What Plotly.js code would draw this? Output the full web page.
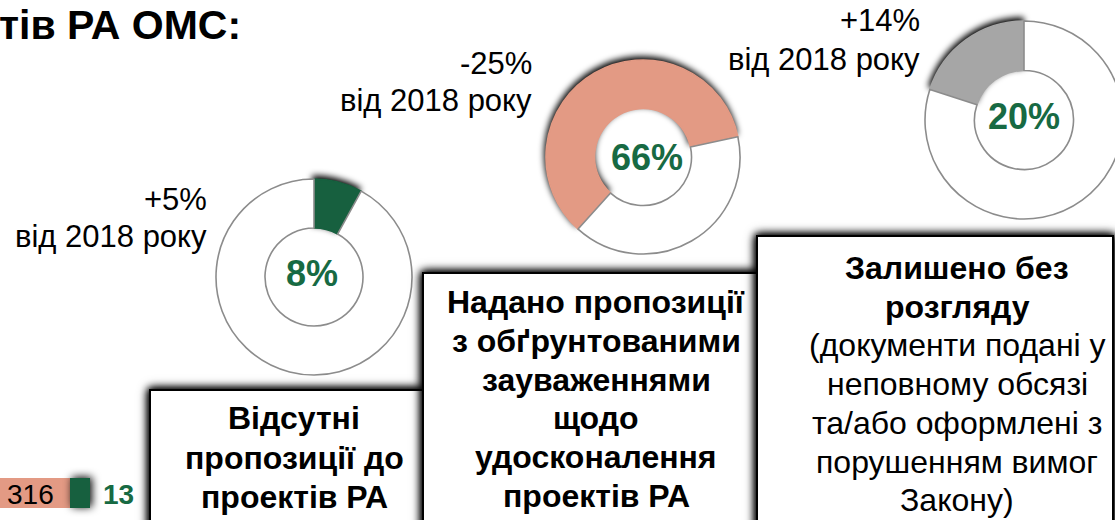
<!DOCTYPE html>
<html>
<head>
<meta charset="utf-8">
<script src="https://cdn.plot.ly/plotly-3.0.1.min.js"></script>
<style>
html,body{margin:0;padding:0;background:#fff;overflow:hidden;width:1115px;height:520px;}
#chart{width:1135px;height:520px;}
</style>
</head>
<body>
<div id="chart"></div>
<script>
// ---- data ----
const titleText = 'тів РА ОМС:';
const donut1Values = [8, 92];
const donut2Values = [60, 40];
const donut3Values = [20, 80];
const centerLabels = ['8%', '66%', '20%'];
const changeLabels = ['+5%', '-25%', '+14%'];
const changeSuffix = 'від 2018 року';
const box1Lines = ['<b>Відсутні</b>', '<b>пропозиції до</b>', '<b>проектів РА</b>'];
const box2Lines = ['<b>Надано пропозиції</b>', '<b>з обґрунтованими</b>', '<b>зауваженнями</b>',
                   '<b>щодо</b>', '<b>удосконалення</b>', '<b>проектів РА</b>'];
const box3Lines = ['<b>Залишено без</b>', '<b>розгляду</b>', '(документи подані у', 'неповному обсязі',
                   'та/або оформлені з', 'порушенням вимог', 'Закону)'];
const barCategory = ['РА'];
const barValues = [316, 13];

// ---- layout helpers ----
const W = 1135, H = 520;
const px = x => x / W;
const py = y => 1 - y / H;

const GREEN = '#17603f', SALMON = '#e39a84', GREY = '#a6a6a6', OUTLINE = '#8c8c8c';
const TEXTGREEN = '#176a43';
const FONT = 'Liberation Sans, Arial, sans-serif';

function donut(values, colors, cx, cy, r, rotation) {
  return {
    type: 'pie', values: values, sort: false, direction: 'clockwise', rotation: rotation,
    hole: 0.5, textinfo: 'none', hoverinfo: 'skip', showlegend: false,
    marker: {colors: colors, line: {color: [colors[0], OUTLINE], width: 1.6}},
    domain: {x: [px(cx - r), px(cx + r)], y: [py(cy + r), py(cy - r)]}
  };
}

const traces = [
  donut(donut1Values, [GREEN, '#ffffff'], 314, 277, 98, 0),
  donut(donut2Values, [SALMON, '#ffffff'], 643, 157, 97, 222),
  donut(donut3Values, [GREY, '#ffffff'], 1024, 120, 99, 288),
  {type: 'bar', orientation: 'h', y: barCategory, x: [barValues[0]], marker: {color: SALMON},
   xaxis: 'x', yaxis: 'y', hoverinfo: 'skip', showlegend: false},
  {type: 'bar', orientation: 'h', y: barCategory, x: [barValues[1]], marker: {color: GREEN},
   xaxis: 'x', yaxis: 'y', hoverinfo: 'skip', showlegend: false}
];

const boxes = [[150, 423, 390], [423, 760, 273], [757, 1113, 236]];
const shapes = boxes.map(b => ({
  type: 'rect', xref: 'paper', yref: 'paper', layer: 'above',
  x0: px(b[0]), x1: px(b[1]), y0: py(540), y1: py(b[2]),
  fillcolor: '#ffffff', line: {color: '#000000', width: 2}
}));

const ann = [];
function addText(text, x, y, xanchor, size, color) {
  ann.push({text: text, x: px(x), y: py(y), xanchor: xanchor, yanchor: 'middle',
    xref: 'paper', yref: 'paper', showarrow: false,
    font: {size: size, color: color, family: FONT}});
}
addText('<b>' + titleText + '</b>', -3, 25, 'left', 41, '#000');

const changePos = [[209, 199, 237], [534, 63, 101], [922, 21, 59]];
changeLabels.forEach((t, i) => {
  addText(t, changePos[i][0], changePos[i][1], 'right', 31, '#000');
  addText(changeSuffix, changePos[i][0], changePos[i][2], 'right', 31, '#000');
});

const centerPos = [[312, 273], [647, 157], [1024, 117]];
centerLabels.forEach((t, i) => addText('<b>' + t + '</b>', centerPos[i][0], centerPos[i][1], 'center', 36, TEXTGREEN));

const boxLineSets = [box1Lines, box2Lines, box3Lines];
const boxTextPos = [[294, 418, 39.5], [596, 302, 38.8], [957, 268, 38.7]];
boxLineSets.forEach((lines, b) => {
  lines.forEach((t, i) => addText(t, boxTextPos[b][0], boxTextPos[b][1] + i * boxTextPos[b][2], 'center', 32, '#000'));
});

addText(String(barValues[0]), 30, 494, 'center', 28, '#000');
addText('<b>' + barValues[1] + '</b>', 118, 494, 'center', 28, TEXTGREEN);

const layout = {
  width: W, height: H, margin: {l: 0, r: 0, t: 0, b: 0, pad: 0},
  paper_bgcolor: '#ffffff', plot_bgcolor: 'rgba(0,0,0,0)',
  barmode: 'stack', bargap: 0,
  xaxis: {domain: [0, px(200)], range: [270.5, 400.5], visible: false, fixedrange: true},
  yaxis: {domain: [0, py(463)], range: [-0.9, 1.0], visible: false, fixedrange: true},
  shapes: shapes, annotations: ann, font: {family: FONT}
};

Plotly.newPlot('chart', traces, layout, {staticPlot: true, displayModeBar: false}).then(() => {
  document.querySelectorAll('.pielayer .trace').forEach(tr => {
    const p = tr.querySelector('.slice path.surface');
    if (p) p.style.filter = 'drop-shadow(-1px -3px 3px rgba(0,0,0,1))';
  });
  document.querySelectorAll('.layer-above .shapelayer path').forEach(p => {
    p.style.filter = 'drop-shadow(0px 0px 5px rgba(0,0,0,1)) drop-shadow(0px 0px 3px rgba(0,0,0,1))';
  });
  const bars = document.querySelectorAll('.barlayer .trace');
  if (bars.length > 1) {
    const p = bars[1].querySelector('path');
    if (p) p.style.filter = 'drop-shadow(2px -1px 4px rgba(0,0,0,1))';
  }
});
</script>
</body>
</html>
